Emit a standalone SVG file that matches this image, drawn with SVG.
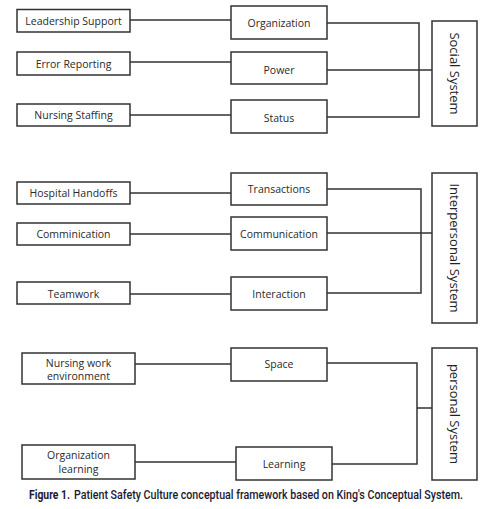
<svg xmlns="http://www.w3.org/2000/svg" width="494" height="509" viewBox="0 0 494 509">
<style>
.box{fill:#fff;stroke:#333;stroke-width:1.5}
.t{font-family:"Open Sans","Noto Sans",sans-serif;font-size:10.5px;fill:#2a2a2a;text-anchor:middle;dominant-baseline:central}
.v{font-family:"Open Sans","Noto Sans",sans-serif;font-size:13px;fill:#222;text-anchor:middle;dominant-baseline:central}
.ln{fill:none;stroke:#333;stroke-width:1.5}
.cap{font-family:"Roboto","Liberation Sans",sans-serif;font-size:12.5px;fill:#1a1a33}
</style>
<rect width="494" height="509" fill="#fff"/>
<g id="connectors">
<path class="ln" d="M130 20H231M130 62H231M130 115H231"/>
<path class="ln" d="M327 23H419V117H327M327 70H432"/>
<path class="ln" d="M130 193H231M130 234H231M130 294H231"/>
<path class="ln" d="M327 189H421V293H327M327 233H432"/>
<path class="ln" d="M135 364H231M135 462H236"/>
<path class="ln" d="M327 363H417V464H332M417 408H432"/>
</g>
<g id="n-leadership"><rect class="box" x="17" y="9.5" width="113" height="22.5"/><text class="t" x="73.5" y="20.5">Leadership Support</text></g>
<g id="n-error"><rect class="box" x="17" y="52" width="113" height="23"/><text class="t" x="73.5" y="63.5">Error Reporting</text></g>
<g id="n-staffing"><rect class="box" x="17" y="104" width="113" height="22"/><text class="t" x="73.5" y="115">Nursing Staffing</text></g>
<g id="n-organization"><rect class="box" x="231" y="6" width="96" height="33"/><text class="t" x="279" y="23">Organization</text></g>
<g id="n-power"><rect class="box" x="231" y="52" width="96" height="32"/><text class="t" x="279" y="69.5">Power</text></g>
<g id="n-status"><rect class="box" x="231" y="100" width="96" height="33"/><text class="t" x="279" y="117.5">Status</text></g>
<g id="n-social"><rect class="box" x="432" y="21" width="45" height="105"/><text class="v" transform="translate(454.5 73.5) rotate(90)">Social System</text></g>
<g id="n-handoffs"><rect class="box" x="17" y="182" width="113" height="22"/><text class="t" x="73.5" y="193">Hospital Handoffs</text></g>
<g id="n-commination"><rect class="box" x="17" y="223" width="113" height="22"/><text class="t" x="73.5" y="234">Comminication</text></g>
<g id="n-teamwork"><rect class="box" x="17" y="282" width="113" height="22"/><text class="t" x="73.5" y="293.5">Teamwork</text></g>
<g id="n-transactions"><rect class="box" x="231" y="173" width="96" height="32"/><text class="t" x="279" y="189">Transactions</text></g>
<g id="n-communication"><rect class="box" x="231" y="217" width="96" height="33"/><text class="t" x="279" y="233.5">Communication</text></g>
<g id="n-interaction"><rect class="box" x="231" y="277" width="96" height="33"/><text class="t" x="279" y="294">Interaction</text></g>
<g id="n-interpersonal"><rect class="box" x="432" y="173" width="45" height="150"/><text class="v" transform="translate(454.5 248) rotate(90)">Interpersonal System</text></g>
<g id="n-nursingwork"><rect class="box" x="22" y="353" width="113" height="31"/><text class="t" x="78.5" y="363">Nursing work</text><text class="t" x="78.5" y="376">environment</text></g>
<g id="n-orglearning"><rect class="box" x="22" y="445" width="113" height="34"/><text class="t" x="78.5" y="455">Organization</text><text class="t" x="78.5" y="468.5">learning</text></g>
<g id="n-space"><rect class="box" x="231" y="348" width="96" height="33"/><text class="t" x="279" y="364">Space</text></g>
<g id="n-learning"><rect class="box" x="236" y="447" width="96" height="33"/><text class="t" x="284" y="463.5">Learning</text></g>
<g id="n-personal"><rect class="box" x="432" y="348" width="45" height="132"/><text class="v" transform="translate(454.5 414) rotate(90)">personal System</text></g>
<g transform="translate(0 499) scale(0.8 1)">
<text class="cap" x="36.25" y="0" font-weight="bold" textLength="51.25" lengthAdjust="spacingAndGlyphs">Figure 1.</text>
<text class="cap" x="92.5" y="0" font-weight="500" textLength="486.25" lengthAdjust="spacingAndGlyphs">Patient Safety Culture conceptual framework based on King's Conceptual System.</text>
</g>
</svg>
